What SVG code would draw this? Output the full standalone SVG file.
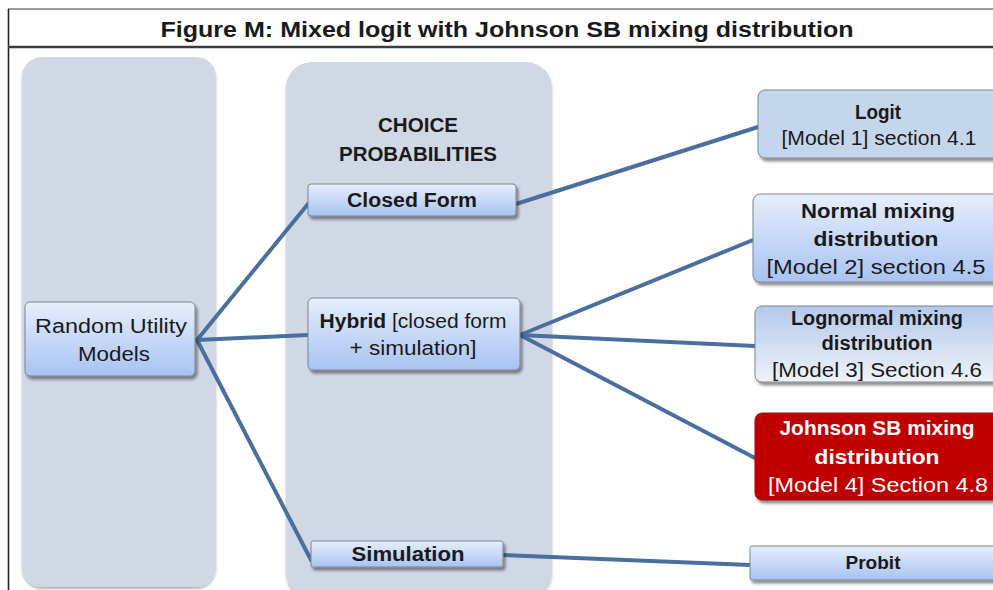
<svg xmlns="http://www.w3.org/2000/svg" width="993" height="590" viewBox="0 0 993 590">
  <defs>
    <linearGradient id="gBlue" x1="0" y1="0" x2="0" y2="1">
      <stop offset="0" stop-color="#E6EEFC"/>
      <stop offset="1" stop-color="#A8C3F2"/>
    </linearGradient>
    <linearGradient id="gBlueInv" x1="0" y1="0" x2="0" y2="1">
      <stop offset="0" stop-color="#B3C9EA"/>
      <stop offset="1" stop-color="#EEF2FA"/>
    </linearGradient>
    <filter id="shadow" x="-10%" y="-10%" width="130%" height="140%">
      <feGaussianBlur in="SourceAlpha" stdDeviation="1.6"/>
      <feOffset dx="1.5" dy="2.5" result="b"/>
      <feComponentTransfer><feFuncA type="linear" slope="0.45"/></feComponentTransfer>
      <feMerge><feMergeNode/><feMergeNode in="SourceGraphic"/></feMerge>
    </filter>
    <filter id="colShadow" x="-5%" y="-5%" width="110%" height="110%">
      <feGaussianBlur in="SourceAlpha" stdDeviation="1.2"/>
      <feOffset dx="0" dy="1.5"/>
      <feComponentTransfer><feFuncA type="linear" slope="0.3"/></feComponentTransfer>
      <feMerge><feMergeNode/><feMergeNode in="SourceGraphic"/></feMerge>
    </filter>
  </defs>
  <style>
    text { font-family: "Liberation Sans", Arial, sans-serif; fill: #1A1A1A; text-anchor: middle; font-size: 20px; }
    .title { font-size: 22px; font-weight: bold; }
    .b { font-weight: bold; }
    .w { fill: #FFFFFF; }
    .col { fill: #D0D8E6; filter: url(#colShadow); }
    .box { fill: url(#gBlue); stroke: #7D8590; stroke-width: 1; filter: url(#shadow); }
    .boxFlat { fill: #C4D6EC; stroke: #7D8590; stroke-width: 1; filter: url(#shadow); }
    .boxInv { fill: url(#gBlueInv); stroke: #7D8590; stroke-width: 1; filter: url(#shadow); }
    .boxRed { fill: #C00000; stroke: #8A1A1A; stroke-width: 1; filter: url(#shadow); }
    .conn { stroke: #4A6F9E; stroke-width: 4; fill: none; stroke-linecap: round; }
  </style>

  <rect width="993" height="590" fill="#FFFFFF"/>

  <!-- frame and title bar -->
  <g id="frame">
    <line x1="8" y1="9" x2="993" y2="9" stroke="#7A7A7A" stroke-width="1.5"/>
    <line x1="8.5" y1="9" x2="8.5" y2="590" stroke="#222" stroke-width="1.6"/>
    <line x1="8" y1="47" x2="993" y2="47" stroke="#3C3C3C" stroke-width="2.5"/>
    <text class="title" x="507" y="37" textLength="693" lengthAdjust="spacingAndGlyphs">Figure M: Mixed logit with Johnson SB mixing distribution</text>
  </g>

  <!-- background columns -->
  <g id="columns">
    <rect class="col" x="22" y="57" width="194" height="530" rx="20"/>
    <rect class="col" x="286" y="62" width="266" height="536" rx="26"/>
    <text class="b" x="418" y="132" textLength="80" lengthAdjust="spacingAndGlyphs">CHOICE</text>
    <text class="b" x="418" y="161" textLength="158" lengthAdjust="spacingAndGlyphs">PROBABILITIES</text>
  </g>

  <!-- connectors -->
  <g id="connectors">
    <line class="conn" x1="197" y1="340" x2="308" y2="204"/>
    <line class="conn" x1="197" y1="340" x2="308" y2="335"/>
    <line class="conn" x1="197" y1="340" x2="311" y2="560"/>
    <line class="conn" x1="516" y1="204" x2="758" y2="127"/>
    <line class="conn" x1="520" y1="335" x2="753" y2="240"/>
    <line class="conn" x1="520" y1="335" x2="755" y2="346"/>
    <line class="conn" x1="520" y1="335" x2="755" y2="458"/>
    <line class="conn" x1="503" y1="555" x2="750" y2="565"/>
  </g>

  <g id="rum">
    <rect class="box" x="25" y="302" width="170" height="74" rx="5"/>
    <text x="111" y="333" textLength="152" lengthAdjust="spacingAndGlyphs">Random Utility</text>
    <text x="114" y="361" textLength="72" lengthAdjust="spacingAndGlyphs">Models</text>
  </g>

  <g id="closed-form">
    <rect class="box" x="308" y="184" width="208" height="32" rx="3"/>
    <text class="b" x="412" y="207" textLength="130" lengthAdjust="spacingAndGlyphs">Closed Form</text>
  </g>

  <g id="hybrid">
    <rect class="box" x="308" y="298" width="212" height="72" rx="5"/>
    <text x="413" y="328" textLength="187" lengthAdjust="spacingAndGlyphs"><tspan font-weight="bold">Hybrid</tspan> [closed form</text>
    <text x="413" y="355" textLength="127" lengthAdjust="spacingAndGlyphs">+ simulation]</text>
  </g>

  <g id="simulation">
    <rect class="box" x="311" y="541" width="192" height="26" rx="2"/>
    <text class="b" x="408" y="561" textLength="113" lengthAdjust="spacingAndGlyphs">Simulation</text>
  </g>

  <g id="logit">
    <rect class="boxFlat" x="758" y="90" width="245" height="68" rx="7"/>
    <text class="b" x="878" y="119" textLength="46" lengthAdjust="spacingAndGlyphs">Logit</text>
    <text x="879" y="145" textLength="195" lengthAdjust="spacingAndGlyphs">[Model 1] section 4.1</text>
  </g>

  <g id="normal">
    <rect class="box" x="753" y="194" width="250" height="88" rx="7"/>
    <text class="b" x="878" y="218" textLength="154" lengthAdjust="spacingAndGlyphs">Normal mixing</text>
    <text class="b" x="876" y="246" textLength="125" lengthAdjust="spacingAndGlyphs">distribution</text>
    <text x="876" y="274" textLength="219" lengthAdjust="spacingAndGlyphs">[Model 2] section 4.5</text>
  </g>

  <g id="lognormal">
    <rect class="boxInv" x="755" y="306" width="248" height="76" rx="7"/>
    <text class="b" x="877" y="325" textLength="172" lengthAdjust="spacingAndGlyphs">Lognormal mixing</text>
    <text class="b" x="877" y="350" textLength="111" lengthAdjust="spacingAndGlyphs">distribution</text>
    <text x="877" y="377" textLength="210" lengthAdjust="spacingAndGlyphs">[Model 3] Section 4.6</text>
  </g>

  <g id="johnson">
    <rect class="boxRed" x="755" y="413" width="248" height="87" rx="7"/>
    <text class="b w" x="877" y="435" textLength="195" lengthAdjust="spacingAndGlyphs">Johnson SB mixing</text>
    <text class="b w" x="877" y="464" textLength="125" lengthAdjust="spacingAndGlyphs">distribution</text>
    <text class="w" x="878" y="492" textLength="220" lengthAdjust="spacingAndGlyphs">[Model 4] Section 4.8</text>
  </g>

  <g id="probit">
    <rect class="box" x="750" y="546" width="253" height="34" rx="2"/>
    <text class="b" x="873" y="569" style="font-size:18px" textLength="55" lengthAdjust="spacingAndGlyphs">Probit</text>
  </g>
</svg>
